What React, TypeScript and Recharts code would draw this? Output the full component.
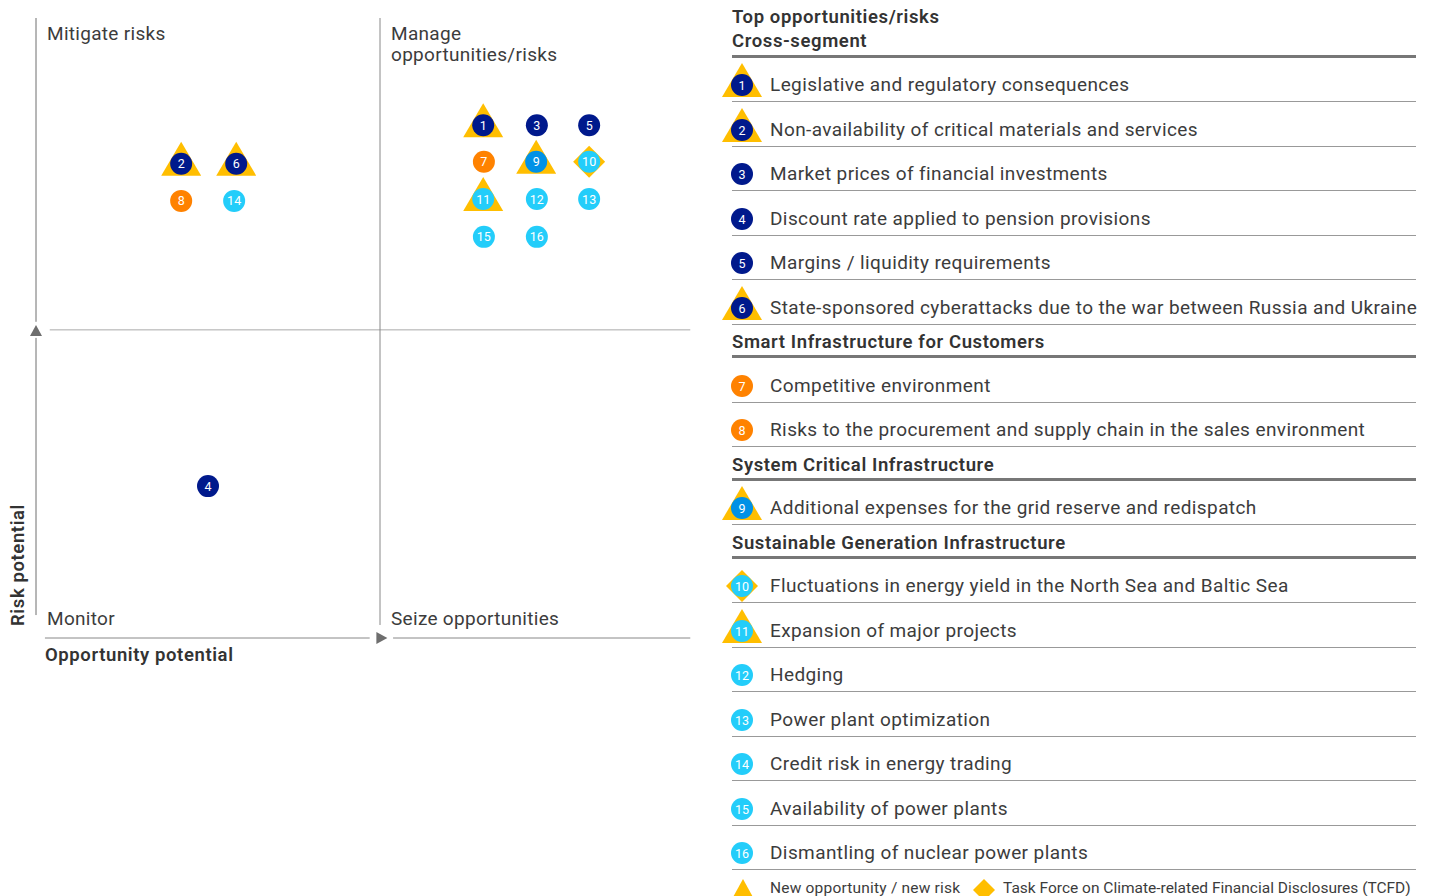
import React from "react";
import { ScatterChart, Scatter, XAxis, YAxis, ReferenceLine, ReferenceDot } from "recharts";

const ids = [1, 2, 3, 4, 5, 6, 7, 8, 9, 10, 11, 12, 13, 14, 15, 16];
const opportunityX = [65.0, 21.1, 72.8, 25.0, 80.4, 29.1, 65.1, 21.1, 72.7, 80.4, 65.0, 72.8, 80.4, 28.8, 65.1, 72.8];
const riskY = [82.7, 76.5, 82.7, 24.5, 82.7, 76.5, 76.8, 70.5, 76.8, 76.8, 70.8, 70.8, 70.8, 70.5, 64.7, 64.7];
const markerTypes = ["triangle", "triangle", "none", "none", "none", "triangle", "none", "none", "triangle", "diamond", "triangle", "none", "none", "none", "none", "none"];
const dotColors = ["#00198c", "#00198c", "#00198c", "#00198c", "#00198c", "#00198c", "#ff8200", "#ff8200", "#0091e6", "#23cdfa", "#23cdfa", "#23cdfa", "#23cdfa", "#23cdfa", "#23cdfa", "#23cdfa"];
const itemLabels = [
  "Legislative and regulatory consequences",
  "Non-availability of critical materials and services",
  "Market prices of financial investments",
  "Discount rate applied to pension provisions",
  "Margins / liquidity requirements",
  "State-sponsored cyberattacks due to the war between Russia and Ukraine",
  "Competitive environment",
  "Risks to the procurement and supply chain in the sales environment",
  "Additional expenses for the grid reserve and redispatch",
  "Fluctuations in energy yield in the North Sea and Baltic Sea",
  "Expansion of major projects",
  "Hedging",
  "Power plant optimization",
  "Credit risk in energy trading",
  "Availability of power plants",
  "Dismantling of nuclear power plants",
];
const segmentTitles = ["Cross-segment", "Smart Infrastructure for Customers", "System Critical Infrastructure", "Sustainable Generation Infrastructure"];
const segmentIds = [[1, 2, 3, 4, 5, 6], [7, 8], [9], [10, 11, 12, 13, 14, 15, 16]];

const YELLOW = "#ffbe00";
const TEXT = "#3c3c3c";
const FONT = "Roboto, 'DejaVu Sans', sans-serif";

const data = ids.map((id, i) => ({
  id,
  x: opportunityX[i],
  y: riskY[i],
  marker: markerTypes[i],
  color: dotColors[i],
}));

const Marker = ({ cx, cy, id, marker, color }: any) => (
  <g>
    {marker === "triangle" && (
      <polygon points={`${cx},${cy - 22} ${cx - 20},${cy + 12} ${cx + 20},${cy + 12}`} fill={YELLOW} />
    )}
    {marker === "diamond" && (
      <polygon points={`${cx},${cy - 16} ${cx + 16},${cy} ${cx},${cy + 16} ${cx - 16},${cy}`} fill={YELLOW} />
    )}
    <circle cx={cx} cy={cy} r={11} fill={color} />
    <text x={cx} y={cy + 4.5} textAnchor="middle" fontSize={12.5} fill="#fff" fontFamily={FONT}>
      {id}
    </text>
  </g>
);

const renderDot = (props: any) => {
  const { cx, cy, payload } = props;
  return <Marker cx={cx} cy={cy} id={payload.id} marker={payload.marker} color={payload.color} />;
};

const upArrow = (p: any) => (
  <polygon points={`${p.cx},${p.cy - 6} ${p.cx - 6},${p.cy + 5} ${p.cx + 6},${p.cy + 5}`} fill="#6e6e6e" />
);
const rightArrow = (p: any) => (
  <polygon points={`${p.cx + 6},${p.cy} ${p.cx - 5},${p.cy - 6} ${p.cx - 5},${p.cy + 6}`} fill="#6e6e6e" />
);

const quadText: React.CSSProperties = {
  position: "absolute",
  fontFamily: FONT,
  fontSize: 19,
  lineHeight: "21px",
  color: TEXT,
  letterSpacing: 0.3,
  whiteSpace: "nowrap",
};

const LegendIcon = ({ id }: { id: number }) => {
  const i = id - 1;
  return (
    <svg width={44} height={40} style={{ position: "absolute", left: -12, bottom: 0, overflow: "visible" }}>
      <Marker cx={22} cy={24} id={id} marker={markerTypes[i]} color={dotColors[i]} />
    </svg>
  );
};

const rowText: React.CSSProperties = {
  fontFamily: FONT,
  fontSize: 19,
  color: TEXT,
  letterSpacing: 0.4,
  whiteSpace: "nowrap",
  position: "absolute",
  left: 38,
  bottom: 5,
  lineHeight: "22px",
};

const headText: React.CSSProperties = {
  fontFamily: FONT,
  fontSize: 18.5,
  fontWeight: 600,
  color: "#333",
  letterSpacing: 0.6,
  whiteSpace: "nowrap",
  lineHeight: "24px",
};

const footText: React.CSSProperties = {
  ...rowText,
  fontSize: 15.5,
  lineHeight: "16px",
  top: 10,
  bottom: "auto",
};

const App = () => {
  return (
    <div style={{ position: "absolute", left: 0, top: 0, width: 1431, height: 896, background: "#fff", overflow: "hidden" }}>
      <div style={{ position: "absolute", left: 0, top: 0 }}>
        <ScatterChart width={760} height={700} margin={{ top: 18, right: 36, bottom: 62, left: 36 }}>
          <XAxis type="number" dataKey="x" domain={[0, 100]} hide />
          <YAxis type="number" dataKey="y" domain={[0, 100]} hide />
          <ReferenceLine segment={[{ x: 0, y: 100 }, { x: 0, y: 51 }]} stroke="#6e6e6e" strokeWidth={1} />
          <ReferenceLine segment={[{ x: 0, y: 48.4 }, { x: 0, y: 3.7 }]} stroke="#6e6e6e" strokeWidth={1} />
          <ReferenceLine segment={[{ x: 2.0, y: 49.7 }, { x: 95.1, y: 49.7 }]} stroke="#aaa" strokeWidth={1} />
          <ReferenceLine segment={[{ x: 50, y: 100 }, { x: 50, y: 2.1 }]} stroke="#888" strokeWidth={1} />
          <ReferenceLine segment={[{ x: 1.3, y: 0 }, { x: 48.5, y: 0 }]} stroke="#888" strokeWidth={1} />
          <ReferenceLine segment={[{ x: 51.9, y: 0 }, { x: 95.1, y: 0 }]} stroke="#888" strokeWidth={1} />
          <ReferenceDot x={0} y={49.5} r={0} shape={upArrow} />
          <ReferenceDot x={50.2} y={0} r={0} shape={rightArrow} />
          <Scatter data={data} shape={renderDot} isAnimationActive={false} />
        </ScatterChart>
      </div>

      <div style={{ ...quadText, left: 47, top: 23 }}>Mitigate risks</div>
      <div style={{ ...quadText, left: 391, top: 23 }}>
        Manage
        <br />
        opportunities/risks
      </div>
      <div style={{ ...quadText, left: 47, top: 608 }}>Monitor</div>
      <div style={{ ...quadText, left: 391, top: 608 }}>Seize opportunities</div>
      <div style={{ ...quadText, left: 45, top: 645, fontWeight: 600, color: "#333", fontSize: 18.5, letterSpacing: 0.6 }}>
        Opportunity potential
      </div>
      <div
        style={{
          ...quadText,
          left: 18,
          top: 565,
          fontWeight: 600,
          color: "#333",
          fontSize: 18.5,
          letterSpacing: 0.6,
          transform: "translate(-50%, -50%) rotate(-90deg)",
        }}
      >
        Risk potential
      </div>

      <div style={{ position: "absolute", left: 732, top: 5, width: 684 }}>
        <div style={{ ...headText }}>Top opportunities/risks</div>
        {segmentTitles.map((title, s) => (
          <div key={title}>
            <div style={{ ...headText, position: "relative", height: s === 0 ? 25.5 : 30.5, borderBottom: "3px solid #777" }}>
              <span style={{ position: "absolute", left: 0, bottom: s === 0 ? 1.5 : 1 }}>{title}</span>
            </div>
            {segmentIds[s].map((id) => (
              <div key={id} style={{ position: "relative", height: 43.5, borderBottom: "1px solid #999" }}>
                <LegendIcon id={id} />
                <span style={rowText}>{itemLabels[id - 1]}</span>
              </div>
            ))}
          </div>
        ))}
        <div style={{ position: "relative", height: 26 }}>
          <svg width={300} height={30} style={{ position: "absolute", left: -12, top: 4, overflow: "visible" }}>
            <polygon points="23,5 12,25 34,25" fill={YELLOW} />
            <polygon points="264,5 275,16 264,27 253,16" fill={YELLOW} />
          </svg>
          <span style={{ ...footText, letterSpacing: 0.2 }}>New opportunity / new risk</span>
          <span style={{ ...footText, left: 271, letterSpacing: 0 }}>
            Task Force on Climate-related Financial Disclosures (TCFD)
          </span>
        </div>
      </div>
    </div>
  );
};

export default App;
